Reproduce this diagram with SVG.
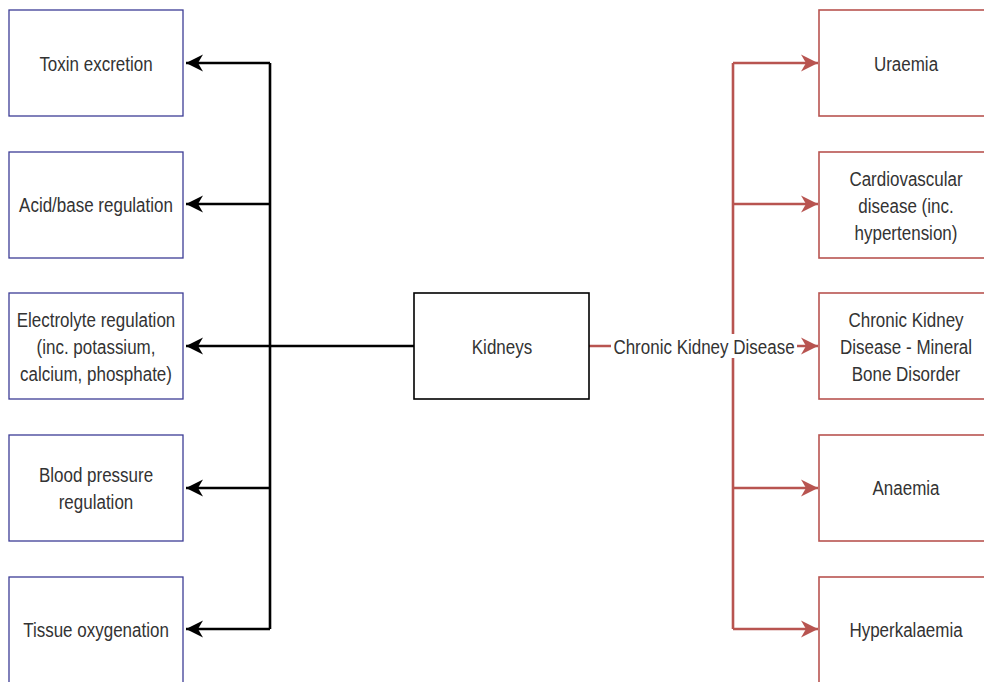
<svg xmlns="http://www.w3.org/2000/svg" width="984" height="682" viewBox="0 0 984 682">
<style>
.lb{fill:#fff;stroke:#3c3c96;stroke-width:1.3}
.rb{fill:#fff;stroke:#b85450;stroke-width:1.6}
.kb{fill:#fff;stroke:#000;stroke-width:1.6}
.t{font-family:"Liberation Sans",Arial,sans-serif;font-size:17px;fill:#333;text-anchor:middle}
.bl{fill:none;stroke:#000;stroke-width:2.6}
.rl{fill:none;stroke:#b85450;stroke-width:2.6}
</style>
<defs>
<marker id="ab" markerUnits="userSpaceOnUse" markerWidth="20" markerHeight="20" refX="18" refY="10" orient="auto" overflow="visible"><path d="M1,1.5 L18,10 L1,18.5 L6,10 Z" fill="#000"/></marker>
<marker id="ar" markerUnits="userSpaceOnUse" markerWidth="20" markerHeight="20" refX="18" refY="10" orient="auto" overflow="visible"><path d="M1,1.5 L18,10 L1,18.5 L6,10 Z" fill="#b85450"/></marker>
</defs>
<rect width="984" height="682" fill="#fff"/>
<g id="connectors">
<path class="bl" d="M414,346 H186" marker-end="url(#ab)"/>
<path class="bl" d="M270,63 V629"/>
<path class="bl" d="M270,63 H186" marker-end="url(#ab)"/>
<path class="bl" d="M270,204 H186" marker-end="url(#ab)"/>
<path class="bl" d="M270,488 H186" marker-end="url(#ab)"/>
<path class="bl" d="M270,629 H186" marker-end="url(#ab)"/>
<path class="rl" d="M589,346 H818" marker-end="url(#ar)"/>
<path class="rl" d="M733,63 V629"/>
<path class="rl" d="M733,63 H818" marker-end="url(#ar)"/>
<path class="rl" d="M733,204 H818" marker-end="url(#ar)"/>
<path class="rl" d="M733,488 H818" marker-end="url(#ar)"/>
<path class="rl" d="M733,629 H818" marker-end="url(#ar)"/>
<g id="ckd-label">
<rect x="611" y="334" width="186" height="24" fill="#fff"/>
<text class="t" transform="translate(704,354) scale(1,1.15)">Chronic Kidney Disease</text>
</g>
</g>
<g id="toxin"><rect class="lb" x="9" y="10" width="174" height="106"/><text class="t" transform="translate(96,71) scale(1,1.15)">Toxin excretion</text></g>
<g id="acid"><rect class="lb" x="9" y="152" width="174" height="106"/><text class="t" transform="translate(96,212) scale(1,1.15)">Acid/base regulation</text></g>
<g id="electrolyte"><rect class="lb" x="9" y="293" width="174" height="106"/>
<text class="t" transform="translate(96,327) scale(1,1.15)">Electrolyte regulation</text>
<text class="t" transform="translate(96,354) scale(1,1.15)">(inc. potassium,</text>
<text class="t" transform="translate(96,381) scale(1,1.15)">calcium, phosphate)</text></g>
<g id="blood"><rect class="lb" x="9" y="435" width="174" height="106"/>
<text class="t" transform="translate(96,482) scale(1,1.15)">Blood pressure</text>
<text class="t" transform="translate(96,509) scale(1,1.15)">regulation</text></g>
<g id="tissue"><rect class="lb" x="9" y="577" width="174" height="106"/><text class="t" transform="translate(96,637) scale(1,1.15)">Tissue oxygenation</text></g>
<g id="kidneys"><rect class="kb" x="414" y="293" width="175" height="106"/><text class="t" transform="translate(502,354) scale(1,1.15)">Kidneys</text></g>
<g id="uraemia"><rect class="rb" x="819" y="10" width="174" height="106"/><text class="t" transform="translate(906,71) scale(1,1.15)">Uraemia</text></g>
<g id="cardio"><rect class="rb" x="819" y="152" width="174" height="106"/>
<text class="t" transform="translate(906,186) scale(1,1.15)">Cardiovascular</text>
<text class="t" transform="translate(906,213) scale(1,1.15)">disease (inc.</text>
<text class="t" transform="translate(906,240) scale(1,1.15)">hypertension)</text></g>
<g id="ckdmbd"><rect class="rb" x="819" y="293" width="174" height="106"/>
<text class="t" transform="translate(906,327) scale(1,1.15)">Chronic Kidney</text>
<text class="t" transform="translate(906,354) scale(1,1.15)">Disease - Mineral</text>
<text class="t" transform="translate(906,381) scale(1,1.15)">Bone Disorder</text></g>
<g id="anaemia"><rect class="rb" x="819" y="435" width="174" height="106"/><text class="t" transform="translate(906,495) scale(1,1.15)">Anaemia</text></g>
<g id="hyperk"><rect class="rb" x="819" y="577" width="174" height="106"/><text class="t" transform="translate(906,637) scale(1,1.15)">Hyperkalaemia</text></g>
</svg>
